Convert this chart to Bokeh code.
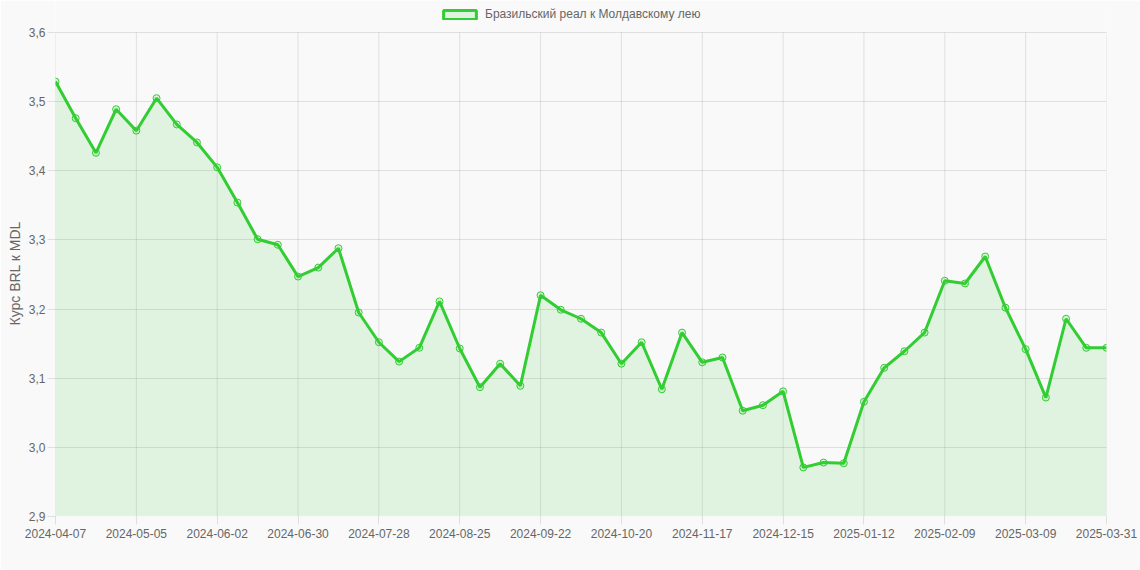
from bokeh.plotting import figure
from bokeh.models import Range1d, FixedTicker, Legend, LegendItem, ColumnDataSource, Title
from bokeh.embed import file_html
from bokeh.resources import INLINE

# ---- data ----
tick_labels = ["2024-04-07", "2024-05-05", "2024-06-02", "2024-06-30", "2024-07-28",
               "2024-08-25", "2024-09-22", "2024-10-20", "2024-11-17", "2024-12-15",
               "2025-01-12", "2025-02-09", "2025-03-09", "2025-03-31"]
tick_positions = [0, 4, 8, 12, 16, 20, 24, 28, 32, 36, 40, 44, 48, 52]
rates = [3.529, 3.476, 3.426, 3.489, 3.458, 3.505, 3.467, 3.441, 3.405, 3.354,
         3.301, 3.293, 3.247, 3.260, 3.288, 3.195, 3.152, 3.124, 3.144, 3.211,
         3.143, 3.087, 3.121, 3.089, 3.220, 3.199, 3.186, 3.166, 3.121, 3.152,
         3.084, 3.166, 3.123, 3.130, 3.053, 3.061, 3.081, 2.971, 2.978, 2.977,
         3.066, 3.115, 3.139, 3.166, 3.241, 3.237, 3.276, 3.202, 3.142, 3.072,
         3.186, 3.144, 3.144]
week_index = list(range(len(rates)))
y_ticks = [2.9, 3.0, 3.1, 3.2, 3.3, 3.4, 3.5, 3.6]
y_tick_labels = ["2,9", "3,0", "3,1", "3,2", "3,3", "3,4", "3,5", "3,6"]
series_name = "Бразильский реал к Молдавскому лею"
y_title = "Курс BRL к MDL"

GREEN = "#32cd32"
TXT = "#666666"
FONT = "Liberation Sans"
BG = "#f9f9f9"

# layout (pixels)
W, H = 1140, 570
LEFT, RIGHT, BOTTOM = 55, 34, 54
PLOT_TOP = 32            # where the 3,6 gridline sits
frame_h = H - BOTTOM     # frame runs from the top of the canvas (room for the legend)
y_span = y_ticks[-1] - y_ticks[0]
y_top = y_ticks[-1] + y_span * PLOT_TOP / (frame_h - PLOT_TOP)

src = ColumnDataSource(dict(x=week_index, y=rates, base=[y_ticks[0]] * len(rates)))
grid_src = ColumnDataSource(dict(x=tick_positions,
                                 y0=[y_ticks[0]] * len(tick_positions),
                                 y1=[y_ticks[-1]] * len(tick_positions)))

p = figure(width=W, height=H, output_backend="svg", toolbar_location=None,
           x_range=Range1d(0, len(rates) - 1), y_range=Range1d(y_ticks[0], y_top),
           min_border_left=LEFT, min_border_right=RIGHT, min_border_bottom=BOTTOM,
           min_border_top=0, background_fill_color=BG, border_fill_color=BG)
p.outline_line_color = None

# vertical grid lines limited to the value span
p.segment(x0="x", y0="y0", x1="x", y1="y1", source=grid_src,
          line_color="#000000", line_alpha=0.1, line_width=1)

area = p.varea(x="x", y1="base", y2="y", source=src, fill_color=GREEN, fill_alpha=0.12)
line = p.line(x="x", y="y", source=src, line_color=GREEN, line_width=3)
pts = p.scatter(x="x", y="y", source=src, size=7, line_color=GREEN, line_width=1,
                fill_color=GREEN, fill_alpha=0.15)

# legend proxy glyph (zero-size box on the first point, only used for the legend swatch)
proxy = p.quad(left=week_index[:1], right=week_index[:1], top=rates[:1], bottom=rates[:1],
               fill_color=GREEN, fill_alpha=0.12, line_color=GREEN, line_width=3)

legend = Legend(items=[LegendItem(label=series_name, renderers=[proxy])],
                location=(384, frame_h - 21), orientation="horizontal",
                label_text_font=FONT, label_text_font_size="12px", label_text_color=TXT,
                glyph_width=41, glyph_height=11, label_height=12, label_standoff=5,
                padding=0, margin=0, spacing=0,
                background_fill_alpha=0, border_line_color=None)
p.add_layout(legend, "center")

# axes
p.xaxis.ticker = FixedTicker(ticks=tick_positions)
p.xaxis.major_label_overrides = {t: l for t, l in zip(tick_positions, tick_labels)}
p.yaxis.ticker = FixedTicker(ticks=y_ticks)
p.yaxis.major_label_overrides = {t: l for t, l in zip(y_ticks, y_tick_labels)}

for ax in (p.xaxis[0], p.yaxis[0]):
    ax.axis_line_color = None
    ax.major_tick_out = 8
    ax.major_tick_in = 0
    ax.major_tick_line_color = "#000000"
    ax.major_tick_line_alpha = 0.1
    ax.minor_tick_line_color = None
    ax.major_label_text_font = FONT
    ax.major_label_text_font_size = "12px"
    ax.major_label_text_color = TXT
p.xaxis.major_label_standoff = 4
p.yaxis.major_label_standoff = 2

p.ygrid.ticker = FixedTicker(ticks=y_ticks)
p.ygrid.grid_line_color = "#000000"
p.ygrid.grid_line_alpha = 0.1
p.xgrid.visible = False

# y axis title, centred on the value span
ytitle = Title(text=y_title, align="left", offset=191, standoff=5,
               text_font=FONT, text_font_size="14px", text_font_style="normal",
               text_color=TXT)
p.add_layout(ytitle, "left")

open("out.html", "w").write(file_html(p, INLINE))
